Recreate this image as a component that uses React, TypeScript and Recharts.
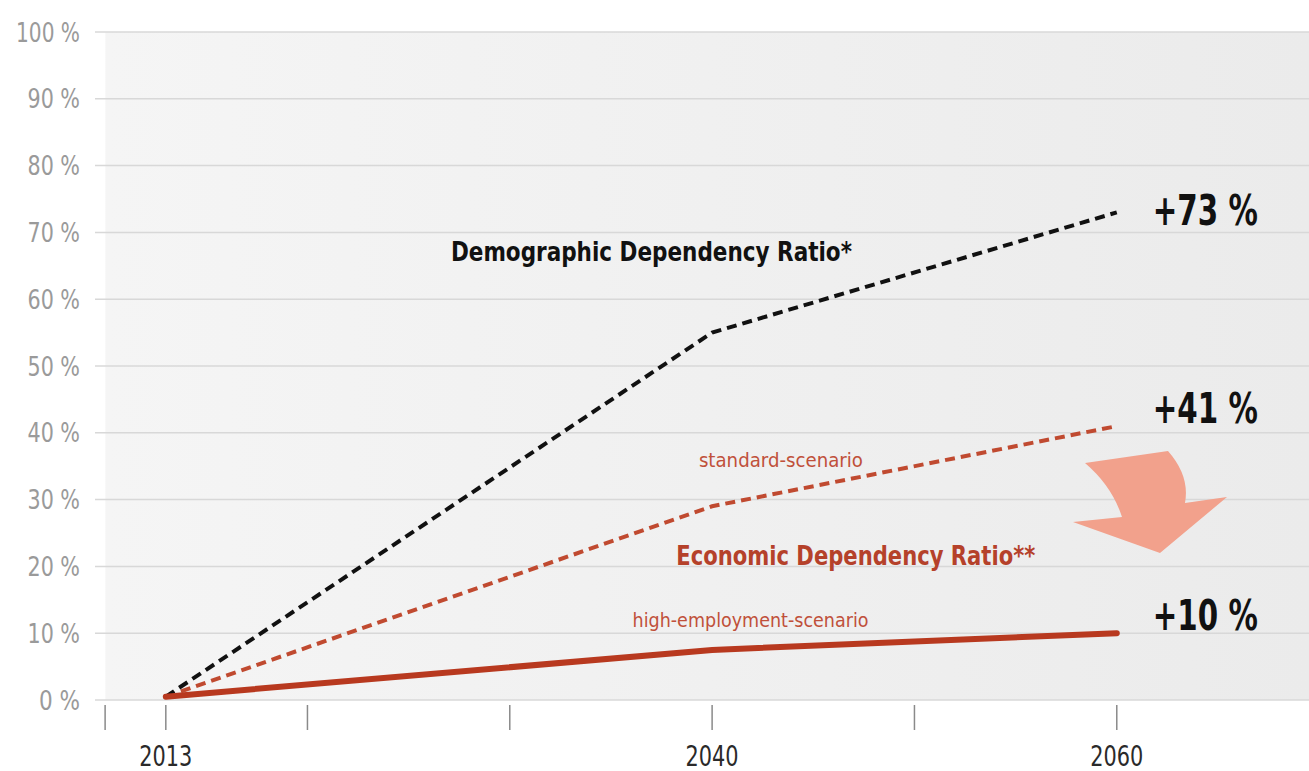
import React from "react";
import {
  LineChart,
  Line,
  XAxis,
  YAxis,
  CartesianGrid,
  ReferenceDot,
} from "recharts";

// values (percent change vs 2013)
const years = [2013, 2040, 2060];
const demographic = [0.5, 55, 73];
const standardScenario = [0.5, 29, 41];
const highEmployment = [0.5, 7.5, 10];

const xTicks = [2010, 2013, 2020, 2030, 2040, 2050, 2060];
const labeledYears = [2013, 2040, 2060];
const yTicks = [0, 10, 20, 30, 40, 50, 60, 70, 80, 90, 100];

const endLabels = ["+73 %", "+41 %", "+10 %"];
const endValues = [73, 41, 10];

const FONT = "'DejaVu Sans', sans-serif";
const RED = "#b5412a";

const data = years.map((year, i) => ({
  year,
  demographic: demographic[i],
  standard: standardScenario[i],
  high: highEmployment[i],
}));

// annotation text placed in chart (data) coordinates; len = rendered width (condensed look)
const notes = [
  { text: "Demographic Dependency Ratio*", x: 2037.0, y: 67.1, size: 26, weight: 700, color: "#111", len: 401 },
  { text: "standard-scenario", x: 2043.4, y: 35.9, size: 19, weight: 400, color: "#c0503a", len: 164 },
  { text: "Economic Dependency Ratio**", x: 2047.1, y: 21.6, size: 27, weight: 700, color: RED, len: 359 },
  { text: "high-employment-scenario", x: 2041.9, y: 12.0, size: 19, weight: 400, color: "#c0503a", len: 236 },
];

// condensed text: squeeze glyphs to a given width
const Txt = ({ len, children, ...rest }: any) => (
  <text
    fontFamily={FONT}
    fontStretch="condensed"
    textLength={len}
    lengthAdjust="spacingAndGlyphs"
    dominantBaseline="central"
    {...rest}
  >
    {children}
  </text>
);

const XTick = (props: any) => {
  const { x, y, payload } = props;
  const show = labeledYears.includes(payload.value);
  return (
    <g>
      <line x1={x} x2={x} y1={y + 5} y2={y + 30} stroke="#8a8a8a" strokeWidth={1.5} />
      {show && (
        <Txt x={x} y={y + 56} textAnchor="middle" fontSize={28} fill="#2a2a2a" len={53}>
          {payload.value}
        </Txt>
      )}
    </g>
  );
};

const YTick = (props: any) => {
  const { x, y, payload } = props;
  const digits = String(payload.value).length;
  return (
    <Txt x={x} y={y} textAnchor="end" fontSize={27} fill="#9a9a9a" len={digits * 11.5 + 29.5}>
      {`${payload.value} %`}
    </Txt>
  );
};

export default function App() {
  return (
    <div style={{ position: "absolute", left: 0, top: 0, width: 1309, height: 771, background: "#fff" }}>
      <LineChart
        width={1309}
        height={771}
        data={data}
        margin={{ top: 32, right: 0, left: 0, bottom: 0 }}
      >
        <defs>
          <linearGradient id="plotBg" x1="0" y1="0" x2="1" y2="0">
            <stop offset="0" stopColor="#ffffff" />
            <stop offset="0.008" stopColor="#ffffff" />
            <stop offset="0.009" stopColor="#f5f5f5" />
            <stop offset="1" stopColor="#ebebeb" />
          </linearGradient>
        </defs>
        <CartesianGrid
          vertical={false}
          stroke="#d8d8d8"
          strokeWidth={1.5}
          fill="url(#plotBg)"
          fillOpacity={1}
        />
        <XAxis
          type="number"
          dataKey="year"
          domain={[2009.5, 2069.5]}
          ticks={xTicks}
          interval={0}
          axisLine={false}
          tickLine={false}
          tickSize={0}
          tickMargin={0}
          height={71}
          tick={<XTick />}
          allowDataOverflow
        />
        <YAxis
          domain={[0, 100]}
          ticks={yTicks}
          interval={0}
          width={95}
          axisLine={false}
          tickLine={false}
          tickSize={0}
          tickMargin={15}
          tick={<YTick />}
        />
        <Line
          type="linear"
          dataKey="standard"
          stroke="#c04a30"
          strokeWidth={4}
          strokeDasharray="10 6"
          dot={false}
          isAnimationActive={false}
        />
        <Line
          type="linear"
          dataKey="demographic"
          stroke="#111111"
          strokeWidth={4}
          strokeDasharray="10 6"
          dot={false}
          isAnimationActive={false}
        />
        <Line
          type="linear"
          dataKey="high"
          stroke="#b8391f"
          strokeWidth={6}
          strokeLinecap="round"
          dot={false}
          isAnimationActive={false}
        />
        {endLabels.map((label, i) => (
          <ReferenceDot
            key={label}
            x={years[years.length - 1]}
            y={endValues[i]}
            r={0}
            ifOverflow="visible"
            shape={(p: any) => (
              <Txt
                x={p.cx + 36}
                y={p.cy - (i === 0 ? 2 : 18)}
                fontWeight={700}
                fontSize={42}
                fill="#111"
                len={105}
              >
                {label}
              </Txt>
            )}
          />
        ))}
        {notes.map((n) => (
          <ReferenceDot
            key={n.text}
            x={n.x}
            y={n.y}
            r={0}
            ifOverflow="visible"
            shape={(p: any) => (
              <Txt
                x={p.cx}
                y={p.cy}
                textAnchor="middle"
                fontWeight={n.weight}
                fontSize={n.size}
                fill={n.color}
                len={n.len}
              >
                {n.text}
              </Txt>
            )}
          />
        ))}
      </LineChart>
      <svg
        width={1309}
        height={771}
        style={{ position: "absolute", left: 0, top: 0, pointerEvents: "none" }}
      >
        <path
          d="M1085,463 L1168,451 Q1190,476 1185,503 L1227,497 L1160,553 L1073,522 L1122,517 Q1112,486 1085,463 Z"
          fill="#f2a18c"
        />
      </svg>
    </div>
  );
}
